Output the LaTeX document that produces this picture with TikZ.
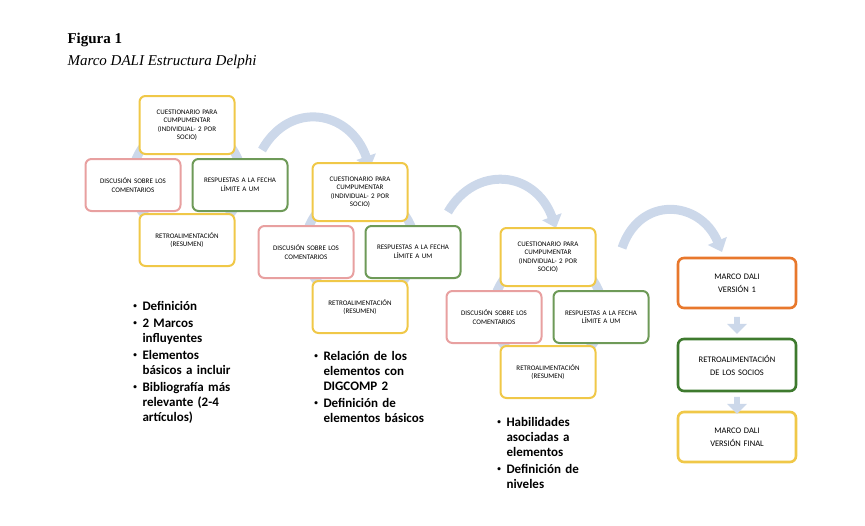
\documentclass[tikz,border=0pt]{standalone}
\usepackage{fontspec}
\setmainfont{Liberation Serif}
\newfontfamily\carl{Carlito}
\usetikzlibrary{arrows.meta,shapes.arrows}
\definecolor{ye}{HTML}{F0C848}
\definecolor{rd}{HTML}{E8A0A0}
\definecolor{gr}{HTML}{6E9A58}
\definecolor{og}{HTML}{E8782C}
\definecolor{dg}{HTML}{3E7A2E}
\definecolor{ring}{HTML}{CCD8EA}
\tikzset{
 bx/.style={draw=#1,line width=2pt,rounded corners=6pt,fill=white,minimum width=95pt,minimum height=52pt,align=center,font=\carl\fontsize{7}{8.5}\selectfont,text width=88pt},
 bigbx/.style={bx=#1,line width=2.6pt,minimum width=118pt,minimum height=50pt,font=\carl\fontsize{8.5}{13}\selectfont,text width=104pt},
 ringst/.style={draw=ring,line width=9pt},
 swoop/.style={draw=ring,line width=9pt,-{Triangle[length=12pt,width=20pt,fill=ring]}},
 blist/.style={align=left,anchor=north west,font=\carl\bfseries\fontsize{13}{15}\selectfont,text width=#1},
 barrow/.style={single arrow,draw=none,fill=ring,minimum width=20pt,single arrow head extend=3pt,minimum height=17pt,shape border rotate=270,inner sep=1pt}
}
\newcommand{\cluster}[3]{%
 \begin{scope}[shift={(#1,#2)}]
 \draw[ringst] (0,55) circle[radius=55];
 \node[bx=ye,minimum height=58pt] (q#3) at (0,0) {CUESTIONARIO PARA\\CUMPUMENTAR\\(INDIVIDUAL- 2 POR\\SOCIO)};
 \node[bx=rd] (d#3) at (-54,60) {DISCUSIÓN SOBRE LOS\\COMENTARIOS};
 \node[bx=gr] (r#3) at (53,60) {RESPUESTAS A LA FECHA\\LÍMITE A UM};
 \node[bx=ye] (f#3) at (0,115) {RETROALIMENTACIÓN\\(RESUMEN)};
 \end{scope}}
\begin{document}
\begin{tikzpicture}[x=1pt,y=-1pt]
\useasboundingbox (0,0) rectangle (865,525);
\node[anchor=west,font=\bfseries\fontsize{15}{17}\selectfont] (t1) at (64,40) {Figura 1};
\node[anchor=west,font=\itshape\fontsize{15}{17}\selectfont] (t2) at (64,62) {Marco DALI Estructura Delphi};
\coordinate (a1s) at (262,150); \coordinate (a1e) at (370,168);
\coordinate (a2s) at (448,212); \coordinate (a2e) at (556,228);
\coordinate (a3s) at (622,248); \coordinate (a3e) at (722,252);
\draw[swoop] (a1s) .. controls (290,100) and (350,110) .. (a1e);
\draw[swoop] (a2s) .. controls (475,165) and (535,170) .. (a2e);
\draw[swoop] (a3s) .. controls (640,195) and (700,200) .. (a3e);
\cluster{187}{125}{1}
\cluster{360}{192}{2}
\cluster{548}{257}{3}
\node[bigbx=og] (v1) at (737,283) {MARCO DALI\\VERSIÓN 1};
\node[bigbx=dg,minimum height=52pt] (rs) at (737,365) {RETROALIMENTACIÓN\\DE LOS SOCIOS};
\node[bigbx=ye] (vf) at (737,437) {MARCO DALI\\VERSIÓN FINAL};
\node[barrow] (b1) at (737,324) {};
\node[barrow] (b2) at (737,404) {};
\node[blist=125pt] (l1) at (114,284) {\begin{itemize}\setlength\itemsep{-2pt}\item Definición\item 2 Marcos influyentes\item Elementos básicos a incluir\item Bibliografía más relevante (2-4 artículos)\end{itemize}};
\node[blist=140pt] (l2) at (295,334) {\begin{itemize}\setlength\itemsep{-2pt}\item Relación de los elementos con DIGCOMP 2\item Definición de elementos básicos\end{itemize}};
\node[blist=100pt] (l3) at (478,400) {\begin{itemize}\setlength\itemsep{-2pt}\item Habilidades asociadas a elementos\item Definición de niveles\end{itemize}};
\end{tikzpicture}
\end{document}
